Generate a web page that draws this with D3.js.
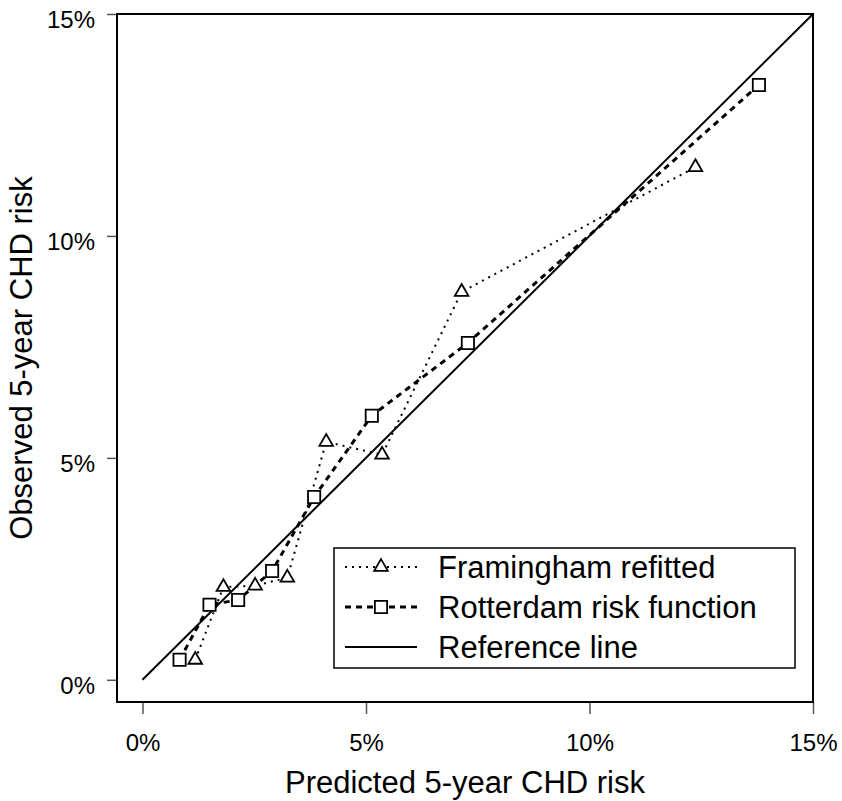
<!DOCTYPE html>
<html>
<head>
<meta charset="utf-8">
<script src="https://cdn.jsdelivr.net/npm/d3@7"></script>
<style>
body { margin: 0; background: #fff; }
text { font-family: "Liberation Sans", Arial, sans-serif; fill: #000; }
</style>
</head>
<body>
<script>
// values (percent)
let tickValues = [0, 5, 10, 15];
let tickLabels = ['0%', '5%', '10%', '15%'];

let framPredicted = [1.18, 1.81, 2.52, 3.24, 4.11, 5.36, 7.14, 12.37];
let framObserved  = [0.45, 2.09, 2.12, 2.30, 5.36, 5.07, 8.74, 11.55];

let rottPredicted = [0.83, 1.50, 2.14, 2.90, 3.84, 5.13, 7.28, 13.79];
let rottObserved  = [0.45, 1.69, 1.80, 2.45, 4.12, 5.95, 7.59, 13.40];

let refPoints = [0, 15];

let seriesNames = ['Framingham refitted', 'Rotterdam risk function', 'Reference line'];

let width = 842;
let height = 801;

let x = d3.scaleLinear().domain([-0.57, 15]).range([117, 813]);
let y = d3.scaleLinear().domain([-0.5, 15]).range([702, 14]);

let svg = d3.select('body')
.append('svg')
.attr('width', width)
.attr('height', height);

// axes
let xAxis = d3.axisBottom(x)
.tickValues(tickValues)
.tickFormat((d, i) => tickLabels[i])
.tickSize(12)
.tickPadding(20);

let yAxis = d3.axisLeft(y)
.tickValues(tickValues)
.tickFormat((d, i) => tickLabels[i])
.tickSize(10)
.tickPadding(12);

let gx = svg.append('g')
.attr('transform', 'translate(0,702)')
.call(xAxis);

let gy = svg.append('g')
.attr('transform', 'translate(117,0)')
.call(yAxis);

gx.select('.domain').remove();
gy.select('.domain').remove();
svg.selectAll('.tick line').attr('stroke', '#555').attr('stroke-width', 1.5);
svg.selectAll('.tick text')
.style('font-size', '24px')
.attr('fill', '#000');
gy.selectAll('.tick text').attr('dy', '0.55em');

// frame
svg.append('rect')
.attr('x', 117)
.attr('y', 14)
.attr('width', 813 - 117)
.attr('height', 702 - 14)
.attr('fill', 'none')
.attr('stroke', '#000')
.attr('stroke-width', 2);

// axis titles
svg.append('text')
.attr('x', 465)
.attr('y', 793)
.attr('text-anchor', 'middle')
.style('font-size', '31px')
.text('Predicted 5-year CHD risk');

svg.append('text')
.attr('transform', 'translate(32,358) rotate(-90)')
.attr('text-anchor', 'middle')
.style('font-size', '31px')
.text('Observed 5-year CHD risk');

// reference line
svg.append('line')
.attr('x1', x(refPoints[0]))
.attr('y1', y(refPoints[0]))
.attr('x2', x(refPoints[1]))
.attr('y2', y(refPoints[1]))
.attr('stroke', '#000')
.attr('stroke-width', 2);

let line = d3.line()
.x(d => x(d[0]))
.y(d => y(d[1]));

let framData = d3.zip(framPredicted, framObserved);
let rottData = d3.zip(rottPredicted, rottObserved);

svg.append('path')
.datum(framData)
.attr('d', line)
.attr('fill', 'none')
.attr('stroke', '#000')
.attr('stroke-width', 2)
.attr('stroke-dasharray', '2,5');

svg.append('path')
.datum(rottData)
.attr('d', line)
.attr('fill', 'none')
.attr('stroke', '#000')
.attr('stroke-width', 3)
.attr('stroke-dasharray', '6,5');

let triangle = d3.symbol().type(d3.symbolTriangle).size(80);
let square = d3.symbol().type(d3.symbolSquare).size(150);

svg.append('g')
.selectAll('path')
.data(rottData)
.enter()
.append('path')
.attr('d', square)
.attr('transform', d => 'translate(' + x(d[0]) + ',' + y(d[1]) + ')')
.attr('fill', '#fff')
.attr('stroke', '#000')
.attr('stroke-width', 1.8);

svg.append('g')
.selectAll('path')
.data(framData)
.enter()
.append('path')
.attr('d', triangle)
.attr('transform', d => 'translate(' + x(d[0]) + ',' + y(d[1]) + ')')
.attr('fill', '#fff')
.attr('stroke', '#000')
.attr('stroke-width', 1.8);

// legend
let legend = svg.append('g');

legend.append('rect')
.attr('x', 334)
.attr('y', 548)
.attr('width', 795 - 334)
.attr('height', 668 - 548)
.attr('fill', '#fff')
.attr('stroke', '#000')
.attr('stroke-width', 1.5);

let rowY = [567, 607, 647];
let dashes = ['2,5', '6,5', null];
let widths = [2, 3, 2];

seriesNames.forEach(function(name, i){
    let row = legend.append('g').attr('transform', 'translate(0,' + rowY[i] + ')');
    row.append('line')
    .attr('x1', 345)
    .attr('x2', 417)
    .attr('stroke', '#000')
    .attr('stroke-width', widths[i])
    .attr('stroke-dasharray', dashes[i]);
    if (i === 0) {
        row.append('path').attr('d', triangle).attr('transform', 'translate(381,0)')
        .attr('fill', '#fff').attr('stroke', '#000').attr('stroke-width', 1.8);
    }
    if (i === 1) {
        row.append('path').attr('d', square).attr('transform', 'translate(381,0)')
        .attr('fill', '#fff').attr('stroke', '#000').attr('stroke-width', 1.8);
    }
    row.append('text')
    .attr('x', 438)
    .attr('dy', '0.36em')
    .style('font-size', '31px')
    .text(name);
});
</script>
</body>
</html>
